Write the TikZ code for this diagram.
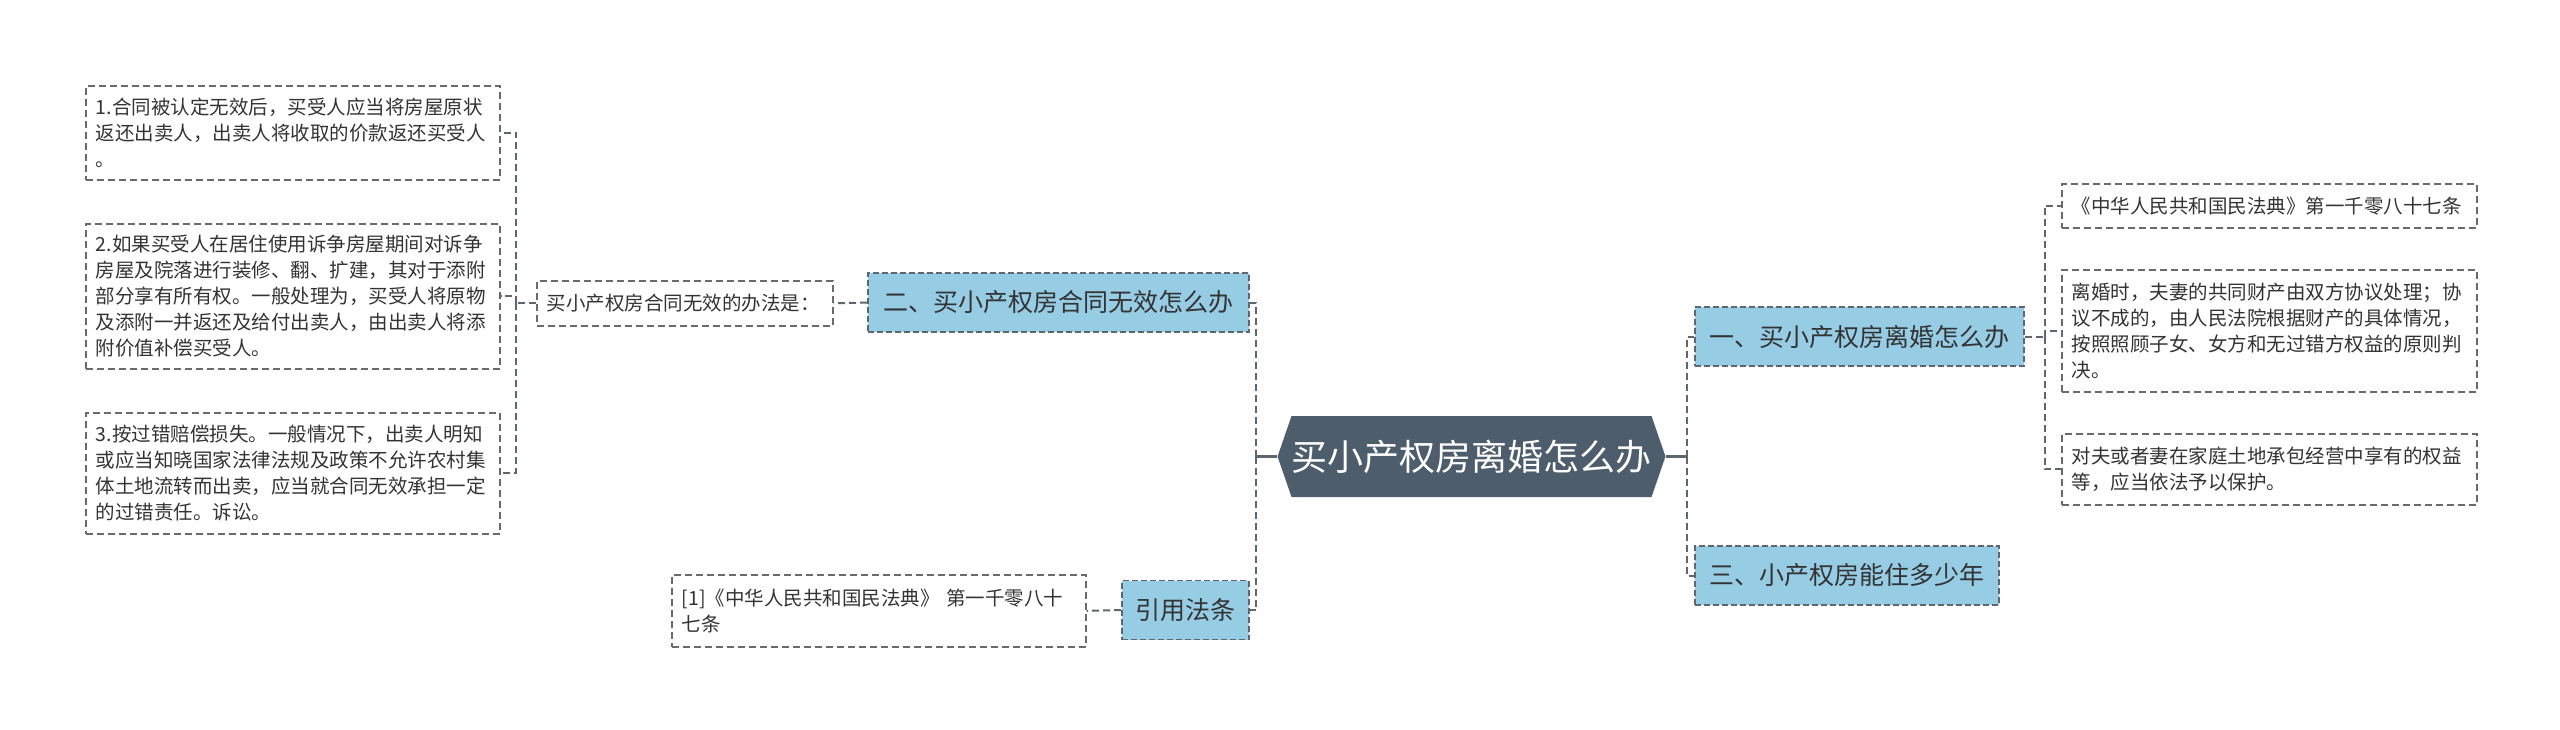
\documentclass[tikz,border=0pt]{standalone}
\usepackage{fontspec}
\setmainfont{Noto Sans CJK SC}
\usetikzlibrary{shapes.symbols}
\definecolor{rootfill}{HTML}{4E5D6C}
\definecolor{topicfill}{HTML}{97CCE5}
\definecolor{linegray}{HTML}{5E6670}
\definecolor{boxgray}{HTML}{6A6A6A}
\definecolor{txt}{HTML}{333333}
\tikzset{
  link/.style  = {draw=linegray, line width=2pt, dash pattern=on 7pt off 4pt},
  stem/.style  = {draw=linegray, line width=2.5pt},
  root/.style  = {shape=signal, signal to=west and east, signal pointer angle=142,
                  fill=rootfill, text=white, font=\fontsize{36}{40}\selectfont,
                  minimum width=366pt, minimum height=81pt, inner sep=0pt},
  topic/.style = {fill=topicfill, draw=linegray, line width=1.6pt, dash pattern=on 6pt off 3pt,
                  font=\fontsize{25}{30}\selectfont, text=txt, inner sep=0pt, minimum height=59pt},
  leaf/.style  = {draw=boxgray, line width=1.6pt, dash pattern=on 7pt off 4pt,
                  font=\fontsize{19.5}{26}\selectfont, text=txt, align=left,
                  inner xsep=10pt, inner ysep=0pt, anchor=north west}
}
\begin{document}
\begin{tikzpicture}[x=1pt, y=-1pt]
  \useasboundingbox (0,0) rectangle (2560,730);

  \node[root] (root) at (1471.5,456.5) {买小产权房离婚怎么办};

  % right side
  \node[topic, minimum width=329pt] (t1) at (1859.5,336.5) {一、买小产权房离婚怎么办};
  \node[topic, minimum width=304pt] (t3) at (1847,575.5) {三、小产权房能住多少年};
  \node[leaf, text width=395pt, minimum height=44pt] (r1) at (2061,183)
    {《中华人民共和国民法典》第一千零八十七条};
  \node[leaf, text width=395pt, minimum height=122pt] (r2) at (2061,269)
    {离婚时，夫妻的共同财产由双方协议处理；协\\议不成的，由人民法院根据财产的具体情况，\\按照照顾子女、女方和无过错方权益的原则判\\决。};
  \node[leaf, text width=395pt, minimum height=71pt] (r3) at (2061,433)
    {对夫或者妻在家庭土地承包经营中享有的权益\\等，应当依法予以保护。};

  % left side
  \node[topic, minimum width=381pt] (t2) at (1058.5,302.5) {二、买小产权房合同无效怎么办};
  \node[topic, minimum width=127pt] (tref) at (1185.5,610) {引用法条};
  \node[leaf, text width=276pt, minimum height=45pt] (s2) at (536,280)
    {买小产权房合同无效的办法是：};
  \node[leaf, text width=394pt, minimum height=72pt] (law) at (671,574)
    {[1]《中华人民共和国民法典》 第一千零八十\\七条};
  \node[leaf, text width=394pt, minimum height=94pt] (b1) at (85,85)
    {1.合同被认定无效后，买受人应当将房屋原状\\返还出卖人，出卖人将收取的价款返还买受人\\。};
  \node[leaf, text width=394pt, minimum height=145pt] (b2) at (85,223)
    {2.如果买受人在居住使用诉争房屋期间对诉争\\房屋及院落进行装修、翻、扩建，其对于添附\\部分享有所有权。一般处理为，买受人将原物\\及添附一并返还及给付出卖人，由出卖人将添\\附价值补偿买受人。};
  \node[leaf, text width=394pt, minimum height=121pt] (b3) at (85,412)
    {3.按过错赔偿损失。一般情况下，出卖人明知\\或应当知晓国家法律法规及政策不允许农村集\\体土地流转而出卖，应当就合同无效承担一定\\的过错责任。诉讼。};

  % connectors
  \draw[stem] (root.west) -- ++(-21,0) coordinate (lj);
  \draw[link] (lj) |- (t2.east);
  \draw[link] (lj) |- (tref.east);
  \draw[stem] (root.east) -- ++(21,0) coordinate (rj);
  \draw[link] (rj) |- (t1.west);
  \draw[link] (rj) |- (t3.west);
  \draw[link] (t1.east) -- ++(20,0) coordinate (tj);
  \draw[link] (tj) |- (r1.west);
  \draw[link] (tj) |- (r2.west);
  \draw[link] (tj) |- (r3.west);
  \draw[link] (t2.west) -- (s2.east);
  \draw[link] (s2.west) -- ++(-20,0) coordinate (sj);
  \draw[link] (sj) |- (b1.east);
  \draw[link] (sj) |- (b2.east);
  \draw[link] (sj) |- (b3.east);
  \draw[link] (tref.west) -- (law.east);
\end{tikzpicture}
\end{document}
